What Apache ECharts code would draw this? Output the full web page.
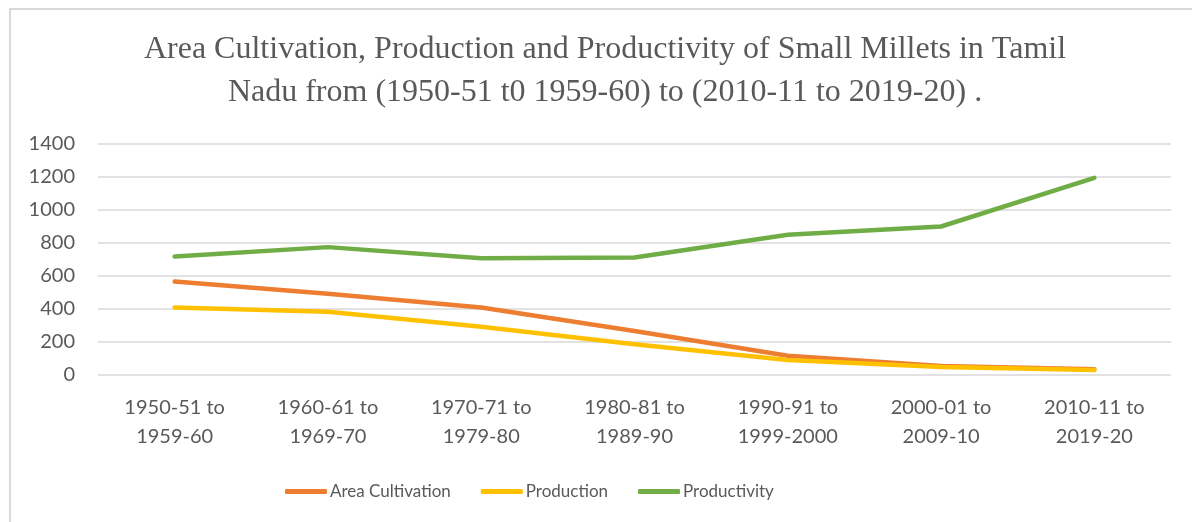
<!DOCTYPE html>
<html>
<head>
<meta charset="utf-8">
<script src="https://cdn.jsdelivr.net/npm/echarts@6/dist/echarts.min.js"></script>
<style>
  html, body { margin: 0; padding: 0; background: #fff; }
  #chartLineBox { width: 1192px; height: 522px; }
</style>
</head>
<body>
<div id="chartLineBox"></div>
<script>
var decades = ['1950-51 to\n1959-60', '1960-61 to\n1969-70', '1970-71 to\n1979-80', '1980-81 to\n1989-90',
  '1990-91 to\n1999-2000', '2000-01 to\n2009-10', '2010-11 to\n2019-20'];
var areaCultivation = [566, 492, 409, 267, 117, 55, 35];
var production = [409, 384, 293, 186, 91, 49, 30];
var productivity = [718, 775, 708, 712, 850, 900, 1195];
var yTicks = [0, 200, 400, 600, 800, 1000, 1200, 1400];

var chart = echarts.init(document.getElementById('chartLineBox'));

function lineSeries(name, data, color) {
  return {
    name: name,
    type: 'line',
    data: data,
    symbol: 'none',
    smooth: false,
    lineStyle: { color: color, width: 4.5, cap: 'round', join: 'round' },
    itemStyle: { color: color }
  };
}

chart.setOption({
  animation: false,
  graphic: [
    {
      type: 'rect',
      shape: { x: 10, y: 9, width: 1300, height: 700 },
      style: { fill: 'none', stroke: '#d9d9d9', lineWidth: 2 },
      silent: true
    },
    {
      type: 'text',
      x: 605,
      y: 71,
      style: {
        text: 'Area Cultivation, Production and Productivity of Small Millets in Tamil\nNadu from (1950-51 t0 1959-60) to (2010-11 to 2019-20) .',
        align: 'center',
        verticalAlign: 'middle',
        font: '32px "Liberation Serif", "Times New Roman", serif',
        lineHeight: 43,
        fill: '#595959'
      }
    }
  ],
  legend: {
    data: ['Area Cultivation', 'Production', 'Productivity'],
    left: 280,
    top: 478,
    icon: 'roundRect',
    itemWidth: 42,
    itemHeight: 5,
    itemGap: 30,
    textStyle: { color: '#595959', fontSize: 17, fontFamily: 'Lato', padding: [0, 0, 0, -2] }
  },
  grid: { left: 98, right: 21, top: 144, bottom: 147, containLabel: false },
  xAxis: {
    type: 'category',
    data: decades,
    boundaryGap: true,
    axisLine: { show: false },
    axisTick: { show: false },
    axisLabel: { color: '#595959', fontSize: 20, fontFamily: 'Lato', lineHeight: 29, margin: 18, interval: 0 }
  },
  yAxis: {
    type: 'value',
    min: yTicks[0],
    max: yTicks[yTicks.length - 1],
    interval: 200,
    axisLine: { show: false },
    axisTick: { show: false },
    splitLine: { lineStyle: { color: '#d9d9d9', width: 1.5 } },
    axisLabel: {
      color: '#595959', fontSize: 20, fontFamily: 'Lato', margin: 23,
      formatter: function (v) { return String(v); }
    }
  },
  series: [
    lineSeries('Area Cultivation', areaCultivation, '#ED7D31'),
    lineSeries('Production', production, '#FFC000'),
    lineSeries('Productivity', productivity, '#70AD47')
  ]
});
</script>
</body>
</html>
